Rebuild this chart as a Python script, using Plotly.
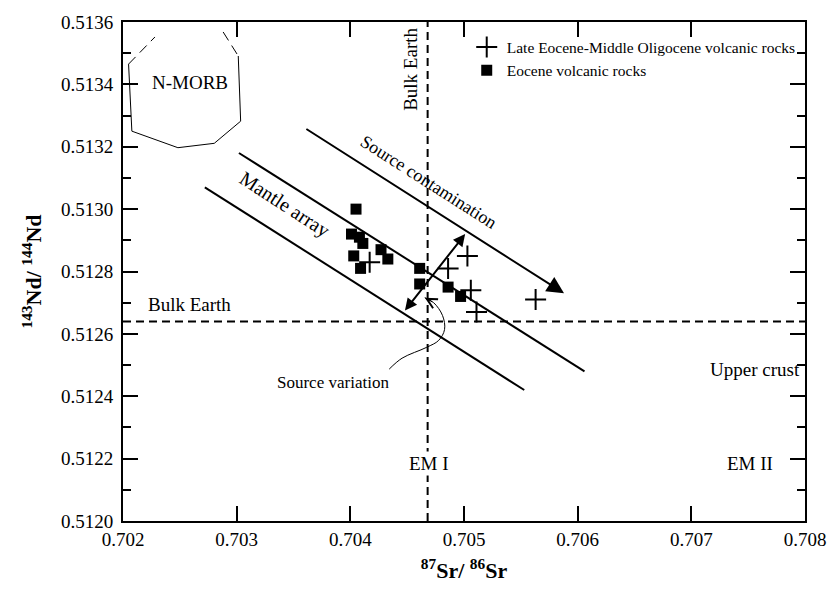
import plotly.graph_objects as go

# ---------------- data ----------------
sr_late = [0.70417, 0.70503, 0.70486, 0.70506, 0.70511, 0.70563]
nd_late = [0.51283, 0.51285, 0.51281, 0.51274, 0.51267, 0.51271]

sr_eocene = [0.70405, 0.70401, 0.70408, 0.70411, 0.70403, 0.70409,
             0.70427, 0.70433, 0.70461, 0.70461, 0.70486, 0.70497]
nd_eocene = [0.51300, 0.51292, 0.51291, 0.51289, 0.51285, 0.51281,
             0.51287, 0.51284, 0.51281, 0.51276, 0.51275, 0.51272]

bulk_earth_sr = 0.70468
bulk_earth_nd = 0.51264

mantle_lower_sr = [0.70272, 0.70553]
mantle_lower_nd = [0.51307, 0.51242]
mantle_upper_sr = [0.70302, 0.70606]
mantle_upper_nd = [0.51318, 0.51248]
contam_sr = [0.70360, 0.70588]
contam_nd = [0.51326, 0.51273]
variation_sr = [0.70447, 0.70501]
variation_nd = [0.51267, 0.51292]

pointer_sr = [0.704342, 0.704455, 0.704672, 0.704777, 0.704829, 0.704811, 0.704733, 0.704655]
pointer_nd = [0.512487, 0.512522, 0.512557, 0.512579, 0.512614, 0.512659, 0.512700, 0.512716]

nmorb_sr = [0.703014, 0.703035, 0.702803, 0.702483, 0.702078, 0.702049]
nmorb_nd = [0.513491, 0.513282, 0.513211, 0.513197, 0.513250, 0.513465]
nmorb_dash_r_sr = [0.702881, 0.703014]
nmorb_dash_r_nd = [0.513568, 0.513491]
nmorb_dash_l_sr = [0.702049, 0.702281]
nmorb_dash_l_nd = [0.513465, 0.513552]

x_range = [0.702, 0.708]
y_range = [0.5120, 0.5136]

FONT = "Liberation Serif, Times New Roman, serif"
BLACK = "#000000"

fig = go.Figure()

def line(xs, ys, width=2, dash="solid", shape="linear"):
    fig.add_trace(go.Scatter(x=xs, y=ys, mode="lines", showlegend=False,
                             hoverinfo="skip",
                             line=dict(color=BLACK, width=width, dash=dash, shape=shape)))

# bulk earth reference lines
line([bulk_earth_sr, bulk_earth_sr], y_range, width=2, dash="8px,5px")
line(x_range, [bulk_earth_nd, bulk_earth_nd], width=2, dash="8px,5px")

# mantle array
line(mantle_lower_sr, mantle_lower_nd)
line(mantle_upper_sr, mantle_upper_nd)

# N-MORB field
line(nmorb_sr, nmorb_nd, width=1)
line(nmorb_dash_r_sr, nmorb_dash_r_nd, width=1, dash="10px,6px")
line(nmorb_dash_l_sr, nmorb_dash_l_nd, width=1, dash="10px,6px")

# source variation pointer curve
line(pointer_sr, pointer_nd, width=1, shape="spline")

# data
fig.add_trace(go.Scatter(
    x=sr_late, y=nd_late, mode="markers",
    name="Late Eocene-Middle Oligocene volcanic rocks",
    marker=dict(symbol="cross-thin", size=15, color=BLACK,
                line=dict(color=BLACK, width=2))))
fig.add_trace(go.Scatter(
    x=sr_eocene, y=nd_eocene, mode="markers",
    name="Eocene volcanic rocks",
    marker=dict(symbol="square", size=11, color=BLACK,
                line=dict(color=BLACK, width=0))))

annotations = [
    # arrows
    dict(x=contam_sr[1], y=contam_nd[1], ax=contam_sr[0], ay=contam_nd[0],
         xref="x", yref="y", axref="x", ayref="y", text="", showarrow=True,
         arrowhead=2, arrowsize=1.7, arrowwidth=2, arrowcolor=BLACK, standoff=0),
    dict(x=variation_sr[1], y=variation_nd[1], ax=variation_sr[0], ay=variation_nd[0],
         xref="x", yref="y", axref="x", ayref="y", text="", showarrow=True,
         arrowhead=2, startarrowhead=2, arrowside="end+start",
         arrowsize=1.2, startarrowsize=1.2, arrowwidth=2, arrowcolor=BLACK,
         standoff=0, startstandoff=0),
    dict(x=pointer_sr[-1], y=pointer_nd[-1], ax=pointer_sr[-2], ay=pointer_nd[-2],
         xref="x", yref="y", axref="x", ayref="y", text="", showarrow=True,
         arrowhead=5, arrowsize=2, arrowwidth=1, arrowcolor=BLACK, standoff=0),
]

def label(text, x, y, size=19, angle=0, bg=None):
    d = dict(x=x, y=y, xref="x", yref="y", text=text, showarrow=False,
             textangle=angle, font=dict(family=FONT, size=size, color=BLACK),
             xanchor="center", yanchor="middle")
    if bg:
        d["bgcolor"] = bg
    annotations.append(d)

label("N-MORB", 0.702587, 0.513405, size=19)
label("Bulk Earth", 0.704529, 0.513448, size=19, angle=-90)
label("Bulk Earth", 0.702587, 0.512694, size=19)
label("Mantle array", 0.703420, 0.513014, size=20, angle=33)
label("Source contamination", 0.704690, 0.513087, size=18, angle=32.5)
label("Source variation", 0.703846, 0.512443, size=17)
label("Upper crust", 0.707559, 0.512487, size=19)
label("EM I", 0.704690, 0.512183, size=19, bg="white")
label("EM II", 0.707516, 0.512183, size=19)

axis_common = dict(
    showline=True, linecolor=BLACK, linewidth=2, mirror="ticks",
    ticks="inside", ticklen=15, tickwidth=2, tickcolor=BLACK,
    showgrid=False, zeroline=False,
    tickfont=dict(family=FONT, size=19, color=BLACK),
)

fig.update_layout(
    width=838, height=592,
    margin=dict(l=123, r=26, t=16, b=71),
    paper_bgcolor="white", plot_bgcolor="white",
    font=dict(family=FONT, color=BLACK),
    xaxis=dict(range=x_range, dtick=0.001, tick0=0.702, tickformat=".3f",
               title=dict(text="<b><sup>87</sup>Sr/ <sup>86</sup>Sr</b>",
                          font=dict(family=FONT, size=22, color=BLACK), standoff=14),
               **axis_common),
    yaxis=dict(range=y_range, dtick=0.0002, tick0=0.5120, tickformat=".4f",
               ticklabelstandoff=4,
               minor=dict(dtick=0.0001, ticks="inside", ticklen=8, tickwidth=2,
                          tickcolor=BLACK),
               title=dict(text="<b><sup>143</sup>Nd/ <sup>144</sup>Nd</b>",
                          font=dict(family=FONT, size=22, color=BLACK), standoff=13),
               **axis_common),
    legend=dict(x=0.504, y=0.983, xanchor="left", yanchor="top",
                bgcolor="rgba(0,0,0,0)", borderwidth=0,
                font=dict(family=FONT, size=15.5, color=BLACK),
                itemwidth=30, tracegroupgap=4),
    annotations=annotations,
    showlegend=True,
)

fig.write_html("out.html",
               config={"displayModeBar": False},
               post_script="document.body.style.margin='0';document.body.style.padding='0';")
